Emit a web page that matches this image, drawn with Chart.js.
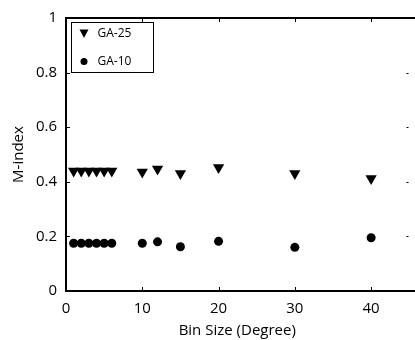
<!DOCTYPE html>
<html>
<head>
<meta charset="utf-8">
<script src="https://cdn.jsdelivr.net/npm/chart.js@4"></script>
<style>
    html, body { margin: 0; padding: 0; background: #fff; overflow: hidden; }
    #wrap { width: 415px; height: 340px; }
</style>
</head>
<body>
<div id="wrap"><canvas id="myChart" width="415" height="340"></canvas></div>
<script>
// dades llegides de la figura
const binSizes = [1, 2, 3, 4, 5, 6, 10, 12, 15, 20, 30, 40];
const ga25 = [0.44, 0.44, 0.44, 0.44, 0.44, 0.44, 0.436, 0.447, 0.43, 0.452, 0.43, 0.412];
const ga10 = [0.175, 0.175, 0.175, 0.175, 0.175, 0.175, 0.175, 0.18, 0.162, 0.182, 0.16, 0.195];
const xTicks = [0, 10, 20, 30, 40];
const yTicks = [0, 0.2, 0.4, 0.6, 0.8, 1];

const FONT = '"Open Sans", "DejaVu Sans", sans-serif';

const toPoints = (xs, ys) => xs.map((x, i) => ({ x: x, y: ys[i] }));

// marc del grafic (el costat dret queda fora de la imatge), ticks cap a dins i llegenda
const framePlugin = {
    id: 'frame',
    afterDraw(chart) {
        const ctx = chart.ctx;
        const a = chart.chartArea;
        const xs = chart.scales.x;
        const ys = chart.scales.y;
        ctx.save();
        ctx.strokeStyle = '#000';
        ctx.lineWidth = 2;
        ctx.beginPath();
        ctx.moveTo(chart.width, a.top);
        ctx.lineTo(a.left, a.top);
        ctx.lineTo(a.left, a.bottom);
        ctx.lineTo(chart.width, a.bottom);
        ctx.stroke();

        ctx.lineWidth = 1;
        const len = 4;
        ctx.beginPath();
        xTicks.forEach((v) => {
            const px = Math.round(xs.getPixelForValue(v)) + 0.5;
            ctx.moveTo(px, a.bottom); ctx.lineTo(px, a.bottom - len);
            ctx.moveTo(px, a.top); ctx.lineTo(px, a.top + len);
        });
        yTicks.forEach((v) => {
            const py = Math.round(ys.getPixelForValue(v)) + 0.5;
            ctx.moveTo(a.left, py); ctx.lineTo(a.left + len, py);
            ctx.moveTo(a.right, py); ctx.lineTo(a.right - 2, py);
        });
        ctx.stroke();

        // llegenda
        const bx = 71.5, by = 22.5, bw = 82, bh = 50;
        ctx.fillStyle = '#fff';
        ctx.fillRect(bx, by, bw, bh);
        ctx.strokeRect(bx, by, bw, bh);
        ctx.font = '12px ' + FONT;
        ctx.textBaseline = 'middle';
        chart.data.datasets.forEach((ds, i) => {
            const cy = by + 11 + i * 28;
            const cx = bx + 12.5;
            ctx.fillStyle = '#000';
            ctx.beginPath();
            if (ds.pointStyle === 'triangle') {
                ctx.moveTo(cx - 4.5, cy - 4);
                ctx.lineTo(cx + 4.5, cy - 4);
                ctx.lineTo(cx, cy + 4.5);
                ctx.closePath();
            } else {
                ctx.arc(cx, cy, 3.5, 0, Math.PI * 2);
            }
            ctx.fill();
            ctx.fillText(ds.label, bx + 26, cy);
        });
        ctx.restore();
    }
};

const ctx = document.getElementById('myChart').getContext('2d');
const chart = new Chart(ctx, {
    type: 'scatter',
    data: {
        datasets: [{
            label: 'GA-25',
            data: toPoints(binSizes, ga25),
            pointStyle: 'triangle',
            rotation: 180,
            radius: 6.5,
            backgroundColor: '#000',
            borderColor: '#000',
            borderWidth: 0
        }, {
            label: 'GA-10',
            data: toPoints(binSizes, ga10),
            pointStyle: 'circle',
            radius: 4.5,
            backgroundColor: '#000',
            borderColor: '#000',
            borderWidth: 0
        }]
    },
    options: {
        responsive: false,
        animation: false,
        layout: { padding: { left: 0, top: 14, right: 0, bottom: 0 } },
        plugins: {
            legend: { display: false },
            tooltip: { enabled: false }
        },
        scales: {
            x: {
                type: 'linear',
                min: 0,
                max: 44.9,
                afterBuildTicks: (scale) => { scale.ticks = xTicks.map((v) => ({ value: v })); },
                afterFit: (scale) => { scale.height = 49; },
                grid: { display: false, drawTicks: false },
                border: { display: false },
                ticks: { color: '#000', padding: 9, font: { family: FONT, size: 15 } },
                title: {
                    display: true,
                    text: 'Bin Size (Degree)',
                    color: '#000',
                    padding: { top: 0, bottom: 0 },
                    font: { family: FONT, size: 15 }
                }
            },
            y: {
                min: 0,
                max: 1,
                afterBuildTicks: (scale) => { scale.ticks = yTicks.map((v) => ({ value: v })); },
                afterFit: (scale) => { scale.width = 66; },
                grid: { display: false, drawTicks: false },
                border: { display: false },
                ticks: {
                    color: '#000',
                    padding: 9,
                    font: { family: FONT, size: 15 },
                    callback: (v) => String(Math.round(v * 10) / 10)
                },
                title: {
                    display: true,
                    text: 'M-index',
                    color: '#000',
                    padding: { top: 10, bottom: 0 },
                    font: { family: FONT, size: 15 }
                }
            }
        }
    },
    plugins: [framePlugin]
});
</script>
</body>
</html>
